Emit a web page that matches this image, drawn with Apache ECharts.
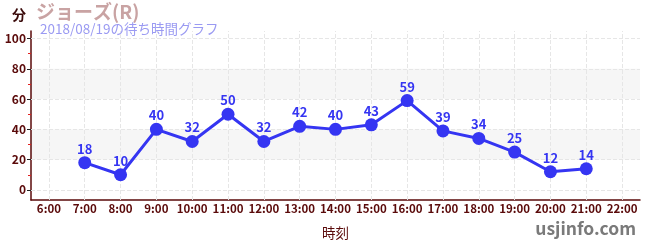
<!DOCTYPE html>
<html><head><meta charset="utf-8">
<script src="https://cdn.jsdelivr.net/npm/echarts@6/dist/echarts.min.js"></script>
<style>html,body{margin:0;padding:0;background:#fff}#c{width:650px;height:250px}</style>
</head><body><div id="c"></div>
<script>
const categories = ['6:00','7:00','8:00','9:00','10:00','11:00','12:00','13:00','14:00','15:00','16:00','17:00','18:00','19:00','20:00','21:00','22:00'];
const waitTimes = [null,18,10,40,32,50,32,42,40,43,59,39,34,25,12,14,null];
const yTickLabels = [0,20,40,60,80,100];
const yMinorTicks = [10,30,50,70,90];
const bands = [[20,40],[60,80]];

const font = '"Noto Sans CJK JP", "Noto Sans", sans-serif';
const dark = '#5a0a0a';
const gridLine = {type:'dashed',color:'#e6e6e6',width:1};
const chart = echarts.init(document.getElementById('c'), null, {renderer:'canvas'});
const yBase = {type:'value',min:-20/3,max:105,position:'left'};
chart.setOption({
  animation:false,
  textStyle:{fontFamily:font},
  grid:{left:31,right:10,top:31,bottom:50,containLabel:false},
  graphic:[
    {type:'text',left:12,top:8,style:{text:'分',fontSize:14,fontWeight:'bold',fill:'#3a0a0a',fontFamily:font}},
    {type:'text',left:36,top:2,style:{text:'ジョーズ(R)',fontSize:19,fontWeight:'bold',fill:'#c9a3a3',fontFamily:font}},
    {type:'text',left:40,top:22,style:{text:'2018/08/19の待ち時間グラフ',fontSize:13.5,fill:'#9a9af2',fontFamily:font}},
    {type:'text',right:14,top:220,style:{text:'usjinfo.com',fontSize:17.5,fontWeight:'bold',fill:'#7a7a7a',fontFamily:font}}
  ],
  xAxis:{
    type:'category',data:categories,boundaryGap:true,
    name:'時刻',nameLocation:'middle',nameGap:26,
    nameTextStyle:{color:dark,fontSize:13.5,fontFamily:font},
    axisLine:{onZero:false,lineStyle:{color:dark,width:1.5}},
    axisTick:{alignWithLabel:true,length:4,inside:true,lineStyle:{color:'#444'}},
    axisLabel:{color:dark,fontSize:11.5,fontWeight:'bold',margin:3,interval:0},
    splitLine:{show:false}
  },
  yAxis:[Object.assign({},yBase,{
    axisLine:{show:true,lineStyle:{color:dark,width:1.5}},
    axisTick:{show:true,customValues:yTickLabels,length:4,lineStyle:{color:'#222'}},
    axisLabel:{customValues:yTickLabels,color:dark,fontSize:12,fontWeight:'bold',margin:5},
    splitLine:{show:false}
  }),Object.assign({},yBase,{
    axisLine:{show:false},
    axisTick:{show:true,customValues:yMinorTicks,length:3,lineStyle:{color:'#e02020'}},
    axisLabel:{show:false},splitLine:{show:false}
  }),Object.assign({},yBase,{
    axisLine:{show:false},
    axisTick:{show:true,inside:true,customValues:yTickLabels,length:3,lineStyle:{color:'#222'}},
    axisLabel:{show:false},splitLine:{show:false}
  })],
  series:[{
    type:'line',data:[],silent:true,
    markArea:{silent:true,itemStyle:{color:'rgba(0,0,0,0.035)'},
      data:bands.map(b=>[{yAxis:b[0]},{yAxis:b[1]}])},
    markLine:{silent:true,symbol:'none',label:{show:false},lineStyle:gridLine,
      data:yTickLabels.map(v=>({yAxis:v})).concat(categories.map(c=>({xAxis:c})))},
    z:1
  },{
    type:'line',data:waitTimes,connectNulls:false,
    symbol:'circle',symbolSize:13,
    lineStyle:{color:'#3535f2',width:3},
    itemStyle:{color:'#3535f2'},
    label:{show:true,position:'top',color:'#3535f2',fontSize:13,fontWeight:'bold',distance:1,fontFamily:font},
    z:5
  }]
});
</script></body></html>
